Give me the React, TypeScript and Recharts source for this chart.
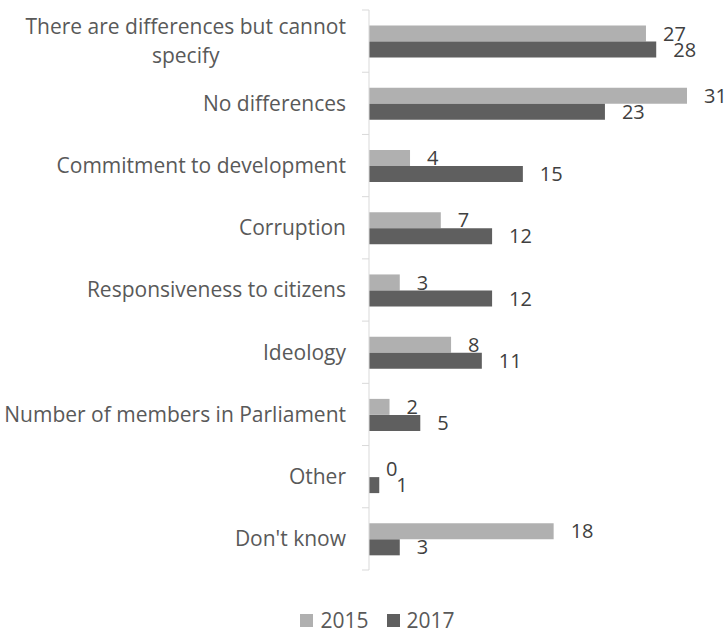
import React from 'react';
import { BarChart, Bar, XAxis, YAxis, Legend, LabelList } from 'recharts';

const categories = [
  'There are differences but cannot\nspecify',
  'No differences',
  'Commitment to development',
  'Corruption',
  'Responsiveness to citizens',
  'Ideology',
  'Number of members in Parliament',
  'Other',
  "Don't know",
];
const values2015 = [27, 31, 4, 7, 3, 8, 2, 0, 18];
const values2017 = [28, 23, 15, 12, 12, 11, 5, 1, 3];
const seriesNames = ['2015', '2017'];

const COLORS = ['#b0b0b0', '#5f5f5f'];
const FONT = '"Open Sans", sans-serif';
const AXIS_COLOR = '#d9d9d9';
const TEXT_COLOR = '#595959';

const WIDTH = 728;
const HEIGHT = 633;
const MARGIN = { top: 10, right: 41, left: 0, bottom: 37 };
const PLOT_HEIGHT = 560;
const BAND = PLOT_HEIGHT / categories.length;
const TICK_MARGIN = 23;
const CAT_SIZE = 21;

const data = categories.map((name, i) => ({
  name,
  y2015: values2015[i],
  y2017: values2017[i],
}));

let measureCtx: CanvasRenderingContext2D | null = null;
const measure = (text: string, size: number) => {
  if (!measureCtx) measureCtx = document.createElement('canvas').getContext('2d');
  if (!measureCtx) return text.length * size * 0.5;
  measureCtx.font = `${size}px "Open Sans"`;
  return measureCtx.measureText(text).width;
};

const CategoryTick = ({ x, y, payload, index }: any) => {
  const lines: string[] = String(payload.value).split('\n');
  const lineHeight = 29;
  const axisX = x + TICK_MARGIN;
  const firstWidth = measure(lines[0], CAT_SIZE);
  const startY = y - ((lines.length - 1) * lineHeight) / 2;
  return (
    <g>
      <line x1={axisX - 7} x2={axisX} y1={y - BAND / 2} y2={y - BAND / 2} stroke={AXIS_COLOR} />
      {index === categories.length - 1 && (
        <line x1={axisX - 7} x2={axisX} y1={y + BAND / 2} y2={y + BAND / 2} stroke={AXIS_COLOR} />
      )}
      {lines.map((line, i) => (
        <text
          key={i}
          x={lines.length > 1 ? x - firstWidth / 2 : x}
          y={startY + i * lineHeight}
          dy="0.35em"
          textAnchor={lines.length > 1 ? 'middle' : 'end'}
          fill={TEXT_COLOR}
          fontSize={CAT_SIZE}
          fontFamily={FONT}
        >
          {line}
        </text>
      ))}
    </g>
  );
};

const CustomLegend = () => (
  <div
    style={{
      display: 'flex',
      justifyContent: 'center',
      alignItems: 'center',
      height: 26,
      lineHeight: '26px',
      paddingLeft: 68,
      boxSizing: 'border-box',
      fontFamily: FONT,
      fontSize: 21,
      color: TEXT_COLOR,
    }}
  >
    {seriesNames.map((name, i) => (
      <div key={name} style={{ display: 'flex', alignItems: 'center', marginRight: i === 0 ? 18 : 0 }}>
        <span style={{ width: 13, height: 13, background: COLORS[i], marginRight: 7, display: 'inline-block' }} />
        <span>{name}</span>
      </div>
    ))}
  </div>
);

export default function App() {
  return (
    <div style={{ position: 'absolute', left: 0, top: 0, width: WIDTH, height: HEIGHT, background: '#fff' }}>
      <BarChart
        width={WIDTH}
        height={HEIGHT}
        data={data}
        layout="vertical"
        margin={MARGIN}
        barCategoryGap="25%"
        barGap={0}
      >
        <XAxis type="number" domain={[0, 31]} hide />
        <YAxis
          type="category"
          dataKey="name"
          width={369}
          axisLine={{ stroke: AXIS_COLOR }}
          tickLine={false}
          tickSize={0}
          tickMargin={TICK_MARGIN}
          interval={0}
          tick={<CategoryTick />}
        />
        <Legend
          verticalAlign="bottom"
          height={26}
          wrapperStyle={{ top: 607 }}
          content={<CustomLegend />}
        />
        {seriesNames.map((name, i) => (
          <Bar
            key={name}
            dataKey={i === 0 ? 'y2015' : 'y2017'}
            name={name}
            fill={COLORS[i]}
            minPointSize={0.01}
            isAnimationActive={false}
          >
            <LabelList
              dataKey={i === 0 ? 'y2015' : 'y2017'}
              position="right"
              offset={17}
              fill="#404040"
              fontSize={20}
              fontFamily={FONT}
            />
          </Bar>
        ))}
      </BarChart>
    </div>
  );
}
